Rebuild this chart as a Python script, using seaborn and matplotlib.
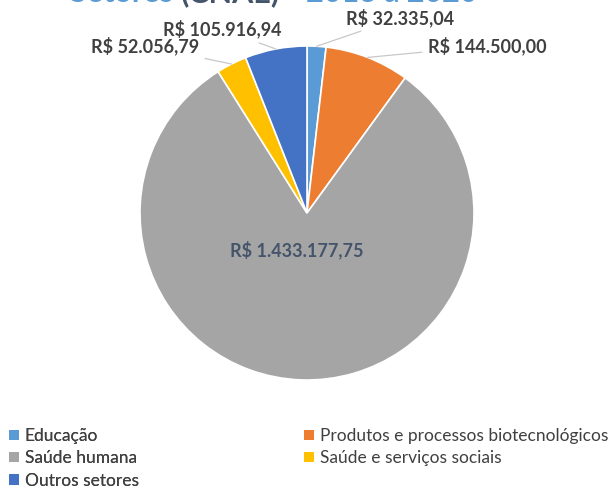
import numpy as np
import matplotlib
matplotlib.use("Agg")
from matplotlib import pyplot as plt
import seaborn as sns

# data
sectors = ["Educação", "Produtos e processos biotecnológicos", "Saúde humana",
           "Saúde e serviços sociais", "Outros setores"]
values = [32335.04, 144500.00, 1433177.75, 52056.79, 105916.94]
value_labels = ["R$ 32.335,04", "R$ 144.500,00", "R$ 1.433.177,75",
                "R$ 52.056,79", "R$ 105.916,94"]
title_parts = ["Setores ", "(CNAE)", " - 2013 a 2020"]

# style
colors = ["#5B9BD5", "#ED7D31", "#A5A5A5", "#FFC000", "#4472C4"]
title_colors = ["#5B9BD5", "#44546A", "#5B9BD5"]
label_pos = [(0.56, 1.17), (1.08, 1.00), (-0.06, -0.22), (-0.97, 1.00), (-0.51, 1.10)]

sns.set_theme(style="white")
plt.rcParams['font.family'] = ['Lato', 'DejaVu Sans']

fig = plt.figure(figsize=(6.14, 4.88), dpi=100)
cx, cy, r = 307, 213, 167
ax = fig.add_axes([(cx - r) / 614, 1 - (cy + r) / 488, 2 * r / 614, 2 * r / 488])

wedges, _ = ax.pie(values, colors=colors, startangle=90, counterclock=False,
                   radius=1, wedgeprops=dict(edgecolor="white", linewidth=1.2))
ax.set_xlim(-1, 1)
ax.set_ylim(-1, 1)
ax.set_aspect("auto")
ax.axis("off")

for i, w in enumerate(wedges):
    mid = np.deg2rad((w.theta1 + w.theta2) / 2)
    tx, ty = label_pos[i]
    if values[i] == max(values):
        ax.text(tx, ty, value_labels[i], ha="center", va="center",
                fontsize=13, fontweight="bold", color="#44546A")
        continue
    ax.annotate(value_labels[i], xy=(np.cos(mid), np.sin(mid)), xytext=(tx, ty),
                ha="center", va="center", fontsize=13, fontweight="bold",
                color="#404040", annotation_clip=False,
                arrowprops=dict(arrowstyle="-", color="#C8C8C8", lw=0.9,
                                shrinkA=2, shrinkB=0))

# title (mostly cut off at the top, like the original)
renderer = fig.canvas.get_renderer()
x = 70
for part, c in zip(title_parts, title_colors):
    t = fig.text(x / 614, 1 - 2 / 488, part, color=c, fontsize=22,
                 fontweight="bold", va="baseline", zorder=0)
    x += t.get_window_extent(renderer).width

# legend, two columns placed separately (row-major like the original)
def add_legend(idx, x0):
    leg = fig.legend([wedges[i] for i in idx], [sectors[i] for i in idx],
                     loc="upper left", bbox_to_anchor=(x0 / 614, 1 - 428 / 488),
                     frameon=False, fontsize=12.5, handlelength=0.55,
                     handleheight=0.55, handletextpad=0.35, labelspacing=0.36,
                     borderaxespad=0, borderpad=0)
    for t in leg.get_texts():
        t.set_color("#404040")
    for h in leg.legend_handles:
        h.set_edgecolor("none")
    return leg

fig.add_artist(add_legend([0, 2, 4], 9))
add_legend([1, 3], 304)

plt.savefig("out.png", dpi=100)
